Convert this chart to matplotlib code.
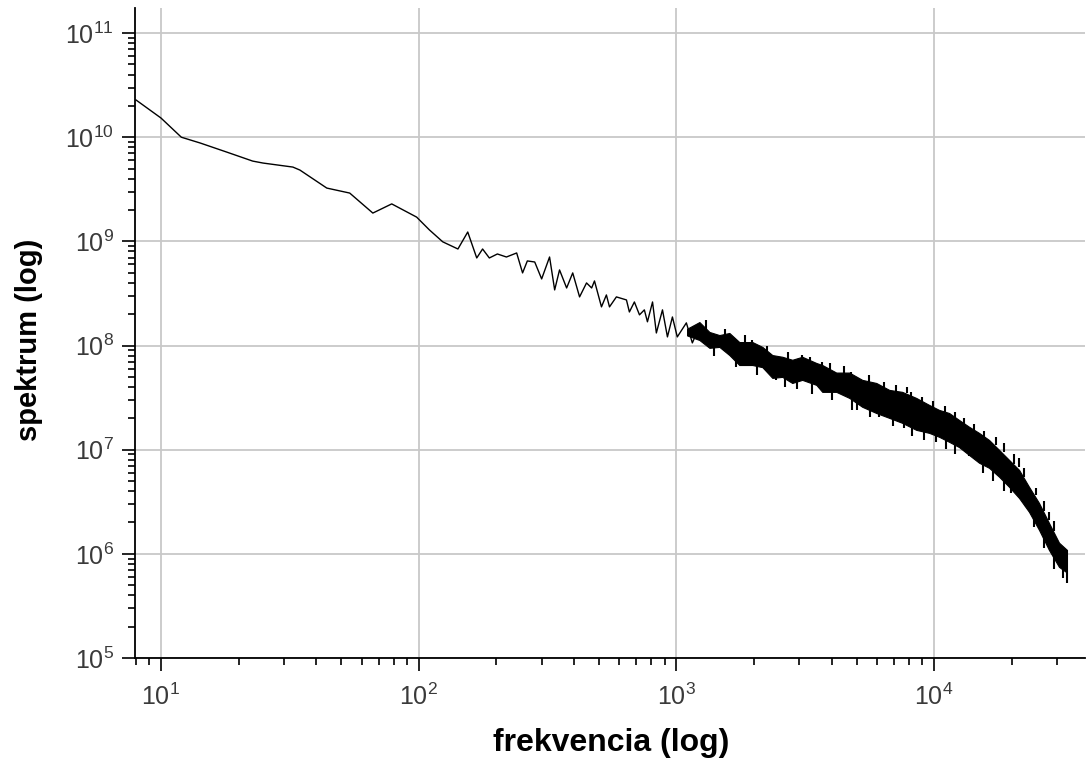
import matplotlib
matplotlib.use("Agg")
import matplotlib.pyplot as plt
from matplotlib.ticker import LogLocator, NullFormatter

plt.rcParams["font.family"] = ["Liberation Sans", "DejaVu Sans"]

# low-frequency part of the spectrum, traced point by point
FREQ = [8, 10, 12, 14.2, 18.0, 22.7, 24.9, 32.5, 34.6, 44.0, 54.0, 66.4, 78.6,
        98.2, 110, 124, 142, 155, 168, 177, 188, 202, 219, 240, 253, 264, 282,
        300, 322, 337, 352, 375, 396, 421, 448, 469, 481, 512, 535, 550, 585,
        640, 657, 687, 719, 751, 772, 808, 836, 883, 923, 965, 1008, 1093,
        1153, 1228]
SPEC = [2.28e10, 1.53e10, 1.0e10, 8.8e9, 7.2e9, 5.9e9, 5.65e9, 5.17e9, 4.84e9,
        3.25e9, 2.91e9, 1.87e9, 2.29e9, 1.71e9, 1.29e9, 9.9e8, 8.45e8, 1.23e9,
        6.93e8, 8.45e8, 6.93e8, 7.57e8, 7.08e8, 7.74e8, 4.98e8, 6.49e8, 6.34e8,
        4.36e8, 7.08e8, 3.42e8, 5.32e8, 3.57e8, 4.98e8, 2.93e8, 3.99e8, 3.57e8,
        4.17e8, 2.35e8, 3.06e8, 2.35e8, 2.93e8, 2.74e8, 2.10e8, 2.62e8, 1.97e8,
        2.20e8, 1.69e8, 2.62e8, 1.32e8, 2.20e8, 1.21e8, 1.88e8, 1.21e8, 1.65e8,
        1.06e8, 1.51e8]

# dense part: upper and lower edge of the noise band
BAND_FREQ = [1100, 1228, 1343, 1468, 1605, 1754, 1971, 2155, 2356, 2575, 2815,
             3077, 3490, 3681, 4171, 4686, 5261, 5963, 6695, 7516, 8519, 9565,
             10450, 11430, 12490, 13660, 14930, 16330, 17860, 19530, 21350,
             23340, 25520, 27900, 30510, 32768]
BAND_TOP = [1.45e8, 1.68e8, 1.35e8, 1.26e8, 1.32e8, 1.08e8, 1.08e8, 9.7e7,
            8.1e7, 7.8e7, 7.3e7, 7.8e7, 6.8e7, 6.5e7, 5.5e7, 5.5e7, 4.68e7,
            4.37e7, 3.75e7, 3.59e7, 3.14e7, 2.69e7, 2.41e7, 2.25e7, 1.93e7,
            1.66e7, 1.45e7, 1.24e7, 9.96e6, 7.98e6, 6.40e6, 4.40e6, 3.08e6,
            1.98e6, 1.28e6, 1.09e6]
BAND_LOW = [1.25e8, 1.13e8, 9.5e7, 9.7e7, 8.1e7, 6.5e7, 6.5e7, 6.2e7, 4.89e7,
            5.0e7, 4.37e7, 4.68e7, 4.19e7, 3.59e7, 3.59e7, 3.14e7, 2.58e7,
            2.25e7, 2.02e7, 1.81e7, 1.55e7, 1.45e7, 1.33e7, 1.19e7, 1.06e7,
            8.9e6, 7.5e6, 6.7e6, 5.5e6, 4.4e6, 3.44e6, 2.53e6, 1.70e6, 1.09e6,
            7.5e5, 6.6e5]

# spikes sticking out of the band: frequency, tip, base
SPIKE_FREQ = [2443, 4808, 6124, 7656, 10190, 13660, 19870, 22740, 32700,
              1971, 3077, 3681, 4765, 7850, 17400, 21350, 24830, 27900,
              1300, 1550, 1850, 2250, 2700, 3300, 3950, 4450, 5600, 6400,
              7100, 8100, 9000, 9900, 11000, 12000, 13100, 14300, 15600,
              18600, 20400, 22300, 26700, 29200,
              1400, 1700, 2050, 2650, 2950, 3350, 4000, 5000, 5650, 6900,
              8200, 9100, 11100, 12100, 15500, 16900, 18700, 24300, 26800,
              29300, 31500]
SPIKE_TIP = [4.68e7, 2.41e7, 2.07e7, 1.62e7, 1.19e7, 8.7e6, 3.85e6, 2.82e6,
             5.3e5, 1.13e8, 8.1e7, 7.0e7, 5.58e7, 4.0e7, 1.33e7, 8.3e6, 4.3e6,
             2.53e6,
             1.75e8, 1.45e8, 1.25e8, 1.0e8, 8.6e7, 7.8e7, 6.8e7, 6.3e7,
             5.2e7, 4.5e7, 4.2e7, 3.6e7, 3.2e7, 2.95e7, 2.6e7, 2.3e7, 2.0e7,
             1.75e7, 1.5e7, 1.15e7, 9.0e6, 6.6e6, 3.2e6, 2.05e6,
             8.0e7, 6.2e7, 5.2e7, 4.0e7, 3.8e7, 3.4e7, 3.0e7, 2.4e7, 2.05e7,
             1.7e7, 1.35e7, 1.25e7, 1.02e7, 9.0e6, 6.0e6, 5.0e6, 4.0e6,
             1.8e6, 1.15e6, 7.2e5, 5.8e5]
SPIKE_BASE = [5.58e7, 3.0e7, 2.41e7, 1.93e7, 1.39e7, 9.96e6, 4.6e6, 3.3e6,
              6.6e5, 9.5e7, 7.0e7, 5.8e7, 4.89e7, 3.5e7, 1.11e7, 6.8e6, 3.7e6,
              2.12e6,
              1.4e8, 1.2e8, 1.0e8, 8.5e7, 7.2e7, 6.6e7, 5.8e7, 5.3e7, 4.4e7,
              3.9e7, 3.6e7, 3.2e7, 2.8e7, 2.5e7, 2.3e7, 2.0e7, 1.75e7, 1.5e7,
              1.3e7, 9.5e6, 7.3e6, 5.5e6, 2.6e6, 1.65e6,
              9.8e7, 7.5e7, 6.3e7, 4.9e7, 4.5e7, 4.3e7, 3.6e7, 2.9e7, 2.45e7,
              2.0e7, 1.6e7, 1.5e7, 1.25e7, 1.1e7, 7.2e6, 6.2e6, 5.0e6, 2.2e6,
              1.45e6, 9.5e5, 7.2e5]

fig = plt.figure(figsize=(10.86, 7.72), dpi=100)
ax = fig.add_axes([0.1243, 0.1477, 0.8748, 0.8419])

ax.plot(FREQ, SPEC, color="black", lw=1.0)
ax.fill_between(BAND_FREQ, BAND_LOW, BAND_TOP, color="black", lw=0.8,
                edgecolor="black")
ax.vlines(SPIKE_FREQ, SPIKE_BASE, SPIKE_TIP, color="black", lw=1.5)

ax.set_xscale("log")
ax.set_yscale("log")
ax.set_xlim(7.93, 38500)
ax.set_ylim(1e5, 1.74e11)

ax.xaxis.set_major_locator(LogLocator(base=10, numticks=20))
ax.yaxis.set_major_locator(LogLocator(base=10, numticks=20))
ax.xaxis.set_minor_locator(LogLocator(base=10, subs=range(2, 10), numticks=50))
ax.yaxis.set_minor_locator(LogLocator(base=10, subs=range(2, 10), numticks=50))
ax.xaxis.set_minor_formatter(NullFormatter())
ax.yaxis.set_minor_formatter(NullFormatter())

ax.grid(True, which="major", color="#c8c8c8", lw=1.3)
ax.set_axisbelow(True)
for side in ("top", "right"):
    ax.spines[side].set_visible(False)
for side in ("left", "bottom"):
    ax.spines[side].set_linewidth(1.3)

ax.tick_params(which="major", length=9.4, width=1.2, labelsize=18,
               labelcolor="#3a3a3a")
ax.tick_params(axis="y", which="major", pad=6)
ax.tick_params(axis="x", which="major", pad=9)
ax.tick_params(which="minor", length=5, width=1.2)

ax.set_xlabel("frekvencia (log)", fontsize=23, fontweight="bold")
ax.set_ylabel("spektrum (log)", fontsize=21, fontweight="bold")
ax.xaxis.set_label_coords(0.501, -0.108)
ax.yaxis.set_label_coords(-0.097, 0.49)

fig.savefig("out.png", dpi=100)
